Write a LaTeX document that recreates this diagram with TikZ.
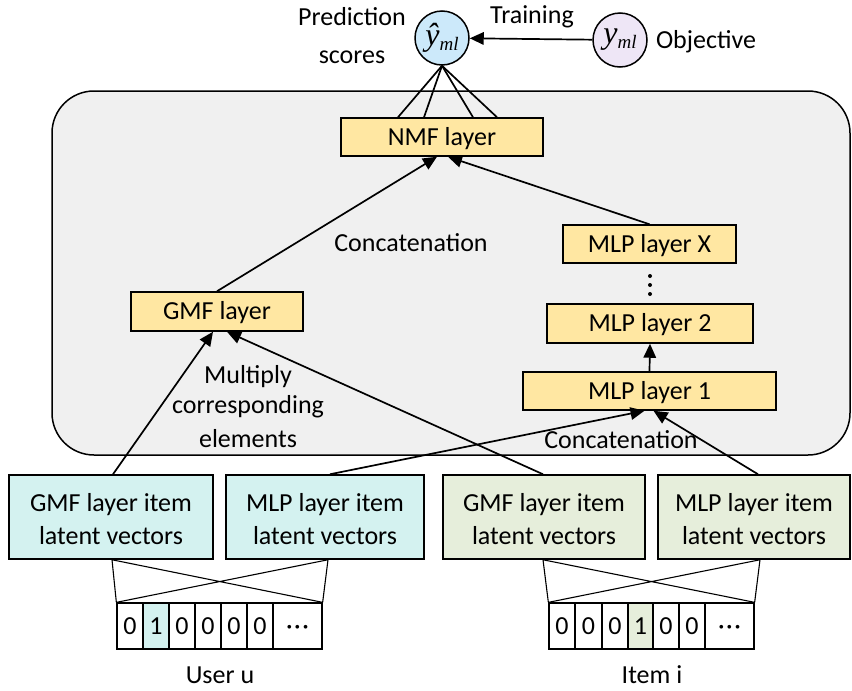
\documentclass[tikz,border=0pt]{standalone}
\usepackage{fontspec}
\setmainfont{Carlito}
\newfontfamily\timesfam{Liberation Serif}
\usetikzlibrary{arrows.meta,calc}

\definecolor{panelgray}{RGB}{240,240,240}
\definecolor{layeryellow}{RGB}{255,231,162}
\definecolor{usercyan}{RGB}{212,242,240}
\definecolor{itemgreen}{RGB}{230,238,219}
\definecolor{predblue}{RGB}{204,233,250}
\definecolor{objlilac}{RGB}{238,230,246}

\begin{document}
\begin{tikzpicture}[x=1pt,y=-1pt,
  font=\fontsize{26}{33}\selectfont,
  panel/.style={draw, line width=1.5pt, fill=panelgray, rounded corners=42pt, inner sep=0pt},
  layerbox/.style={draw, line width=1.5pt, fill=layeryellow, inner sep=0pt,
    text height=16.7pt, text depth=0pt},
  vecbox/.style={draw, line width=1.5pt, inner sep=0pt, minimum height=84pt,
    align=center, text height=55pt, text depth=0pt},
  cell/.style={draw, line width=1.3pt, inner sep=0pt, minimum height=46pt,
    text height=16.7pt, text depth=0pt},
  score/.style={circle, draw, line width=1.5pt, inner sep=0pt, minimum size=54pt},
  arr/.style={line width=1.7pt, -{Triangle[length=14pt,width=12.5pt]}},
  link/.style={line width=1.7pt},
  cross/.style={line width=1.1pt},
  lbl/.style={inner sep=0pt, anchor=base}
]
\useasboundingbox (0,0) rectangle (852,691);

% model panel
\node[panel, minimum width=798pt, minimum height=364pt] (panel) at (451,273) {};

% output and target scores
\node[score, fill=predblue] (yhat) at (442,38)
  {\timesfam\itshape\fontsize{32}{32}\selectfont\^{y}\raisebox{-5pt}{\fontsize{19}{19}\selectfont ml}};
\node[score, fill=objlilac] (ytrue) at (620,40)
  {\timesfam\itshape\fontsize{32}{32}\selectfont y\raisebox{-5pt}{\fontsize{19}{19}\selectfont ml}};
\draw[arr] (ytrue) -- (yhat);

\node[lbl] (predlbl) at (352,25) {Prediction};
\node[lbl] (scorelbl) at (352,63) {scores};
\node[lbl] (trainlbl) at (532,23) {Training};
\node[lbl] (objlbl) at (706,48) {Objective};

% layers
\node[layerbox, minimum width=202pt, minimum height=38pt] (nmf) at (442,137) {NMF layer};
\node[layerbox, minimum width=172pt, minimum height=39pt] (gmf) at (217,311.5) {GMF layer};
\node[layerbox, minimum width=173pt, minimum height=38pt] (mlpx) at (649.5,244) {MLP layer X};
\node[layerbox, minimum width=206pt, minimum height=39pt] (mlp2) at (650,323.5) {MLP layer 2};
\node[layerbox, minimum width=253pt, minimum height=38pt] (mlp1) at (649.5,391) {MLP layer 1};

\foreach \yy in {276,285,294} \fill (650,\yy) circle (2pt);

% embedding boxes
\node[vecbox, fill=usercyan, minimum width=204pt] (gmfu) at (111,517) {GMF layer item\\latent vectors};
\node[vecbox, fill=usercyan, minimum width=198pt] (mlpu) at (325,517) {MLP layer item\\latent vectors};
\node[vecbox, fill=itemgreen, minimum width=202pt] (gmfi) at (544,517) {GMF layer item\\latent vectors};
\node[vecbox, fill=itemgreen, minimum width=192pt] (mlpi) at (754,517) {MLP layer item\\latent vectors};

% one-hot inputs
\foreach \cx/\w/\c/\t [count=\k] in {130/26/white/0, 156/26/usercyan/1, 182/26/white/0,
    208/26/white/0, 234/26/white/0, 260/26/white/0, 297.5/49/white/{·\kern1.5pt·\kern1.5pt·}}
  \node[cell, fill=\c, minimum width=\w pt] (u\k) at (\cx,626) {\t};
\foreach \cx/\w/\c/\t [count=\k] in {562/26/white/0, 588.5/27/white/0, 615/26/white/0,
    640.5/25/itemgreen/1, 666/26/white/0, 692/26/white/0, 729.5/49/white/{·\kern1.5pt·\kern1.5pt·}}
  \node[cell, fill=\c, minimum width=\w pt] (i\k) at (\cx,626) {\t};

\node[lbl] (userlbl) at (220,683) {User u};
\node[lbl] (itemlbl) at (652,683) {Item i};

% lookup fan-in to the embeddings
\coordinate (gub) at ($(gmfu.south)+(1,0)$);
\coordinate (mub) at ($(mlpu.south)+(3,0)$);
\coordinate (gib) at ($(gmfi.south)+(-1,0)$);
\coordinate (mib) at ($(mlpi.south)+(6,0)$);
\draw[cross] (gub) -- (u1.north west) (gub) -- (u7.north east)
             (mub) -- (u7.north east) (mub) -- (u1.north west);
\draw[cross] (gib) -- (i1.north west) (gib) -- (i7.north east)
             (mib) -- (i7.north east) (mib) -- (i1.north west);

% embeddings into GMF and MLP branches
\draw[arr] ($(gmfu.north)+(2,0)$) -- ($(gmf.south)+(-4,0)$);
\draw[arr] ($(gmfi.north)+(-1,0)$) -- ($(gmf.south)+(10,0)$);
\draw[arr] ($(mlpu.north)+(5,0)$) -- ($(mlp1.south)+(-5,0)$);
\draw[arr] ($(mlpi.north)+(4,0)$) -- ($(mlp1.south)+(4,0)$);
\draw[arr] (mlp1.north) -- (mlp2.south);

% branches into the fusion layer
\draw[arr] (gmf.north) -- ($(nmf.south)+(-5,0)$);
\draw[arr] (mlpx.north) -- ($(nmf.south)+(6,0)$);
\foreach \dx in {-44,-18,31,55}
  \draw[link] (yhat.south) -- ($(nmf.north)+(\dx,0)$);

\node[lbl] (mul1) at (248,383) {Multiply};
\node[lbl] (mul2) at (248,413) {corresponding};
\node[lbl] (mul3) at (248,447) {elements};
\node[lbl] (cat1) at (411,251) {Concatenation};
\node[lbl] (cat2) at (621,448) {Concatenation};
\end{tikzpicture}
\end{document}
